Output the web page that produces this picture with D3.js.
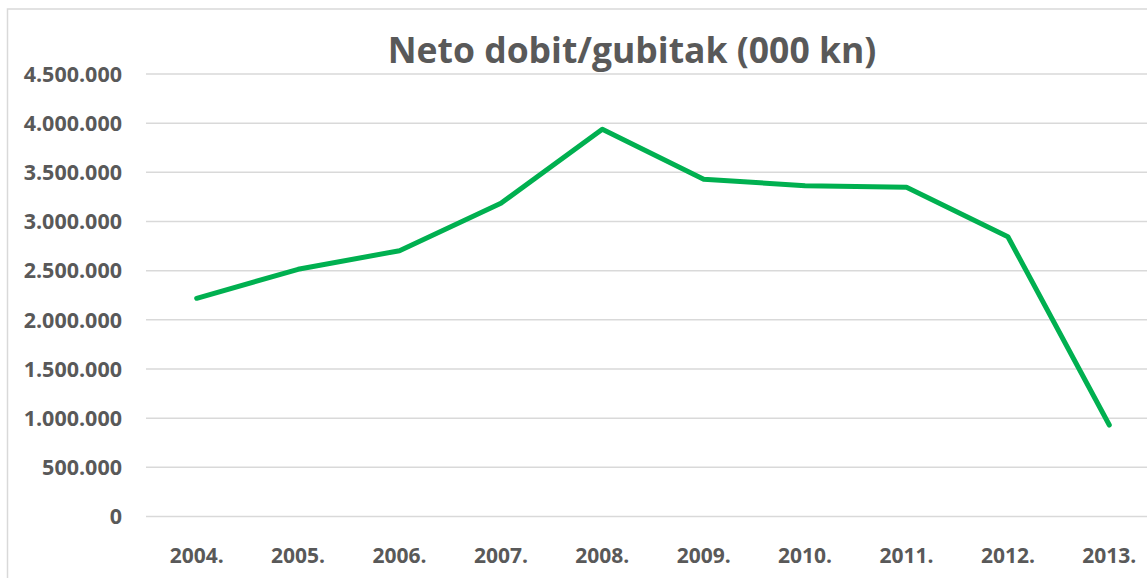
<!DOCTYPE html>
<html>
<head>
<meta charset="utf-8">
<script src="https://cdn.jsdelivr.net/npm/d3@7"></script>
<style>
  html, body { margin: 0; padding: 0; background: #ffffff; }
  svg { display: block; }
</style>
</head>
<body>
<svg id="chart" width="1147" height="578"></svg>
<script>
const title = "Neto dobit/gubitak (000 kn)";
const categories = ["2004.", "2005.", "2006.", "2007.", "2008.", "2009.", "2010.", "2011.", "2012.", "2013."];
const values = [2214000, 2509000, 2698000, 3180000, 3933000, 3424000, 3359000, 3343000, 2840000, 925000];
const yTicks = [0, 500000, 1000000, 1500000, 2000000, 2500000, 3000000, 3500000, 4000000, 4500000];

const W = 1147, H = 578;
const plot = { left: 146, right: 1160, top: 73.5, bottom: 516 };
const textColor = "#595959";
const gridColor = "#d9d9d9";
const lineColor = "#00b050";
const font = "'Open Sans', 'Liberation Sans', sans-serif";

const svg = d3.select("#chart");

// chart border
svg.append("rect")
  .attr("x", 7.5).attr("y", 9)
  .attr("width", 1300).attr("height", 700)
  .attr("fill", "#ffffff")
  .attr("stroke", gridColor)
  .attr("stroke-width", 1.5);

const x = d3.scaleBand().domain(categories).range([plot.left, plot.right]);
const y = d3.scaleLinear().domain([0, 4500000]).range([plot.bottom, plot.top]);

const locale = d3.formatLocale({ decimal: ",", thousands: ".", grouping: [3], currency: ["", ""] });
const fmt = locale.format(",d");

// gridlines + y labels
const yAxis = d3.axisLeft(y).tickValues(yTicks).tickFormat(fmt)
  .tickSize(-(W - plot.left + 20)).tickPadding(24);
const gy = svg.append("g").attr("transform", `translate(${plot.left},0)`).call(yAxis);
gy.select(".domain").remove();
gy.selectAll(".tick line").attr("stroke", gridColor).attr("stroke-width", 1.5);
gy.selectAll(".tick text")
  .attr("fill", textColor)
  .attr("font-family", font)
  .attr("font-weight", 700)
  .attr("font-size", 21.5)
  .attr("dy", "0.36em");

// x labels
const xAxis = d3.axisBottom(x).tickSize(0).tickPadding(0);
const gx = svg.append("g").attr("transform", `translate(0,${plot.bottom})`).call(xAxis);
gx.select(".domain").remove();
gx.selectAll(".tick text")
  .attr("fill", textColor)
  .attr("font-family", font)
  .attr("font-weight", 700)
  .attr("font-size", 21)
  .attr("y", 39)
  .attr("dy", "0.36em");

// line
const line = d3.line()
  .x((d, i) => x(categories[i]) + x.bandwidth() / 2)
  .y(d => y(d));
svg.append("path")
  .datum(values)
  .attr("d", line)
  .attr("fill", "none")
  .attr("stroke", lineColor)
  .attr("stroke-width", 5)
  .attr("stroke-linejoin", "round")
  .attr("stroke-linecap", "round");

// title
svg.append("text")
  .attr("x", 632)
  .attr("y", 63)
  .attr("text-anchor", "middle")
  .attr("fill", textColor)
  .attr("font-family", font)
  .attr("font-weight", 700)
  .attr("font-size", 35.5)
  .text(title);
</script>
</body>
</html>
